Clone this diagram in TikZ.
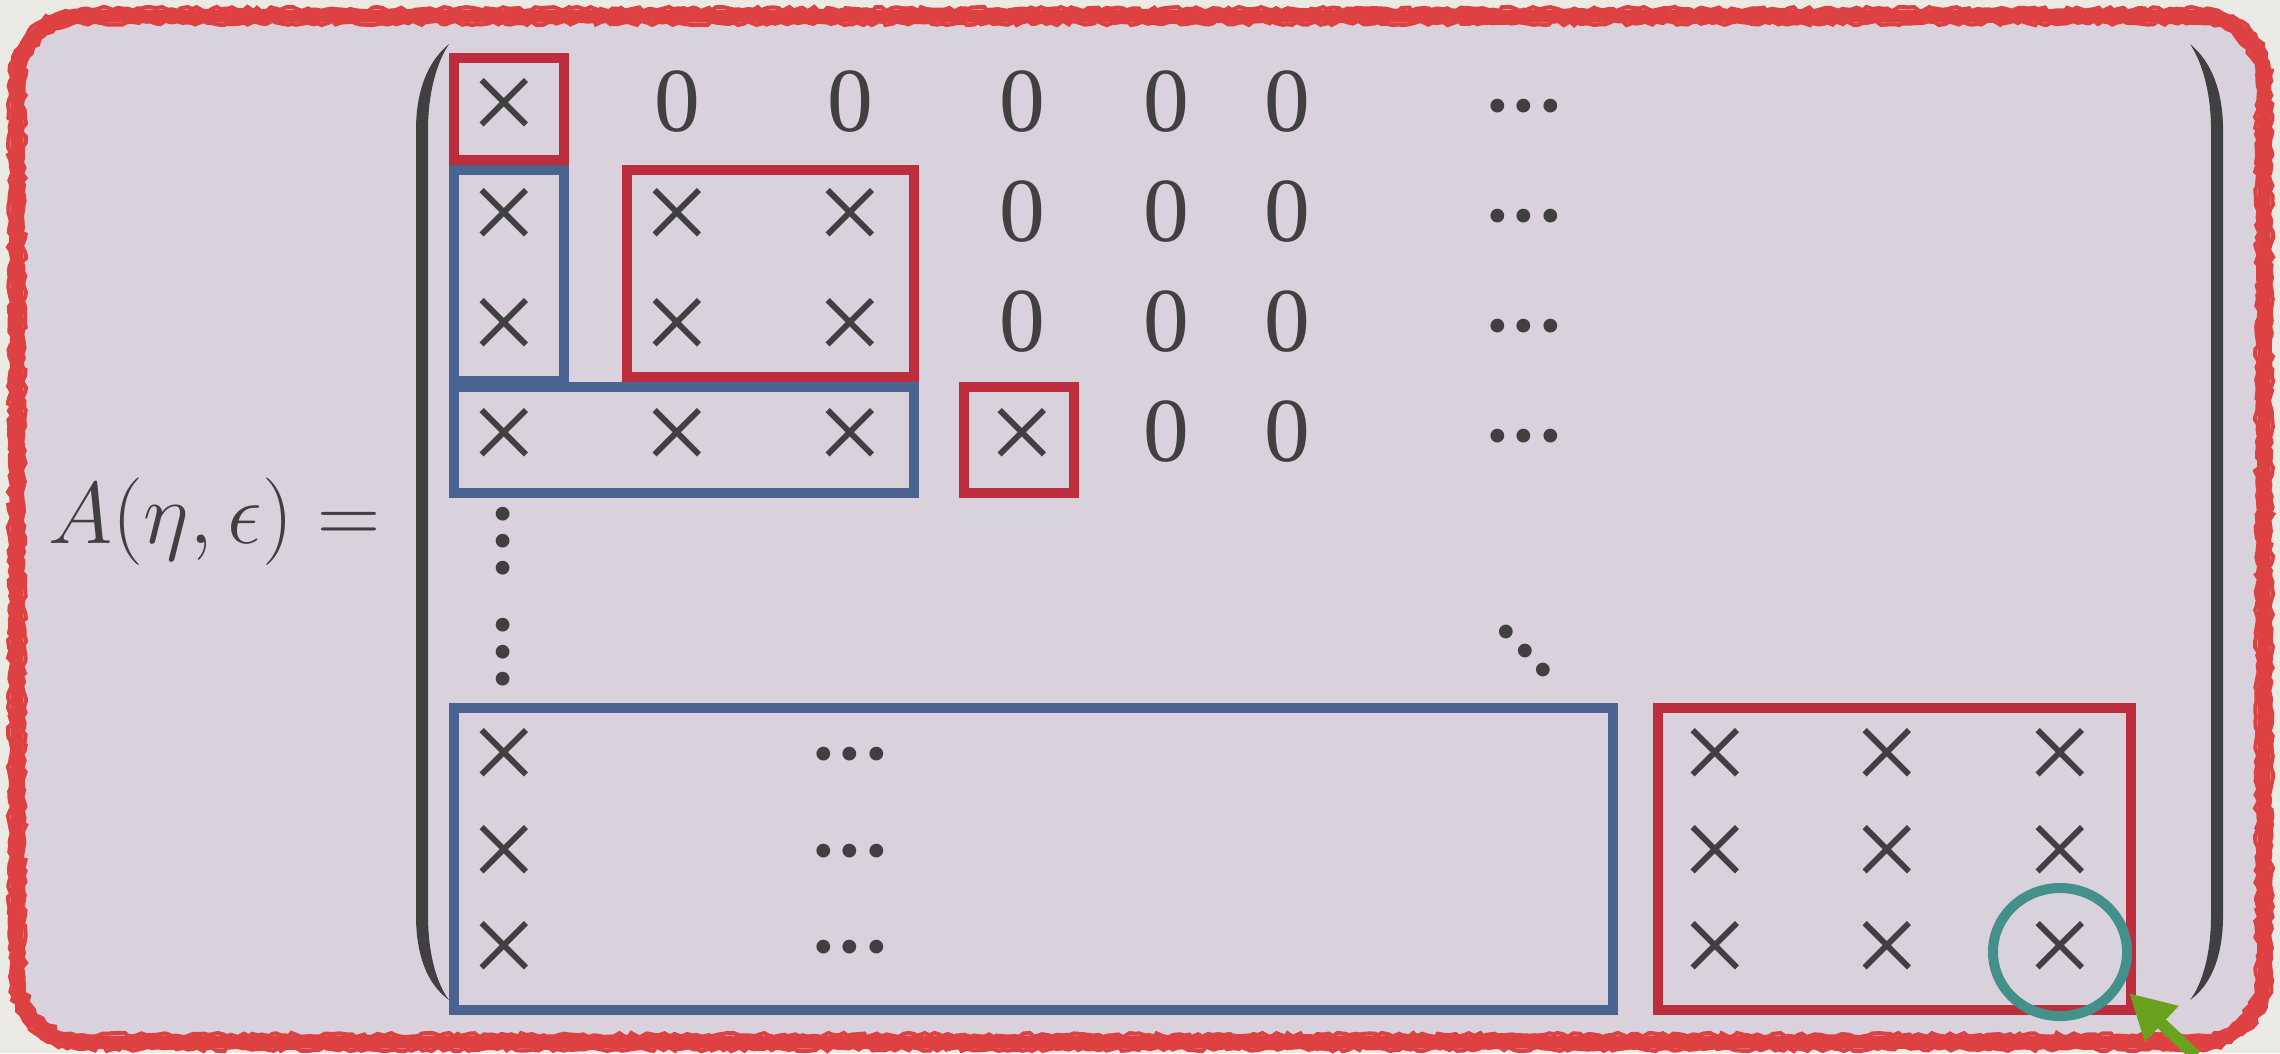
\documentclass[tikz,border=0pt]{standalone}
\usepackage{fontspec}
\setmainfont{Liberation Serif}
\usetikzlibrary{decorations.pathmorphing,arrows.meta,shapes.geometric}
\definecolor{bgout}{HTML}{ECEAE5}
\definecolor{panel}{HTML}{D9D2DC}
\definecolor{frame}{HTML}{DD4142}
\definecolor{boxred}{HTML}{BC2D3D}
\definecolor{boxblue}{HTML}{4A6391}
\definecolor{circteal}{HTML}{43918A}
\definecolor{arrgreen}{HTML}{6AA11F}
\definecolor{ink}{HTML}{404040}
\newcommand{\threedots}{\raisebox{-0.322em}{·\kern-0.103em·\kern-0.103em·}}
\tikzset{
  zero/.style={anchor=base, inner sep=0pt, font=\fontsize{26}{30}\selectfont, text=ink},
  cross/.style={anchor=center, inner sep=0pt, font=\fontsize{34}{38}\selectfont, text=ink},
  dotrow/.style={anchor=center, inner sep=0pt, text height=0pt, text depth=0pt,
     font=\fontsize{33}{33}\selectfont, text=ink},
  redbox/.style={draw=boxred, line width=1mm},
  bluebox/.style={draw=boxblue, line width=1mm},
  roughline/.style={draw=frame, line width=0.4mm, decorate,
     decoration={random steps, segment length=0.5mm, amplitude=0.22mm}},
}
\begin{document}
\begin{tikzpicture}[x=0.01cm,y=-0.01cm]
\pgfmathsetseed{7}
\useasboundingbox (0,0) rectangle (2280,1053);
\fill[bgout] (0,0) rectangle (2280,1053);
% panel and rough frame
\fill[panel] (82,16) -- (2199,16) arc[start angle=90, end angle=0, radius=0.65cm]
  -- (2264,977) arc[start angle=0, end angle=-90, radius=0.65cm]
  -- (82,1042) arc[start angle=-90, end angle=-180, radius=0.65cm]
  -- (17,81) arc[start angle=180, end angle=90, radius=0.65cm] -- cycle;
\draw[frame, line width=1.3mm] (82,16) -- (2199,16) arc[start angle=90, end angle=0, radius=0.65cm]
  -- (2264,977) arc[start angle=0, end angle=-90, radius=0.65cm]
  -- (82,1042) arc[start angle=-90, end angle=-180, radius=0.65cm]
  -- (17,81) arc[start angle=180, end angle=90, radius=0.65cm] -- cycle;
\draw[roughline] (82,9) -- (2199,9) arc[start angle=90, end angle=0, radius=0.72cm]
  -- (2271,977) arc[start angle=0, end angle=-90, radius=0.72cm]
  -- (82,1049) arc[start angle=-90, end angle=-180, radius=0.72cm]
  -- (10,81) arc[start angle=180, end angle=90, radius=0.72cm] -- cycle;
\draw[roughline] (82,23) -- (2199,23) arc[start angle=90, end angle=0, radius=0.58cm]
  -- (2257,977) arc[start angle=0, end angle=-90, radius=0.58cm]
  -- (82,1035) arc[start angle=-90, end angle=-180, radius=0.58cm]
  -- (24,81) arc[start angle=180, end angle=90, radius=0.58cm] -- cycle;

% parentheses
\begin{scope}[shift={(449,0)}]
\fill[ink] (0,44) .. controls (-22,62) and (-33,92) .. (-33,130) -- (-33,915)
  .. controls (-33,955) and (-22,984) .. (0,1000)
  .. controls (-12,984) and (-21,955) .. (-21,915) -- (-21,130)
  .. controls (-21,92) and (-12,62) .. (0,44) -- cycle;
\end{scope}
\begin{scope}[shift={(2190,0)}, xscale=-1]
\fill[ink] (0,44) .. controls (-22,62) and (-33,92) .. (-33,130) -- (-33,915)
  .. controls (-33,955) and (-22,984) .. (0,1000)
  .. controls (-12,984) and (-21,955) .. (-21,915) -- (-21,130)
  .. controls (-21,92) and (-12,62) .. (0,44) -- cycle;
\end{scope}

% left-hand side
\node[anchor=base west, inner sep=0pt, text=ink, font=\fontsize{26}{30}\selectfont] (lhs) at (48,543) {$A(\eta,\epsilon) =$};

% highlight boxes
\draw[redbox] (454,58) rectangle (564,160);
\draw[bluebox] (454,170) rectangle (564,381);
\draw[bluebox] (454,387) rectangle (914,493);
\draw[redbox] (627,170) rectangle (914,377);
\draw[redbox] (964,387) rectangle (1074,493);
\draw[bluebox] (454,708) rectangle (1613,1010);
\draw[redbox] (1658,708) rectangle (2131,1010);

% row 1
\node[cross] (a11) at (504,110) {×};
\node[zero] (a12) at (677,131) {0};
\node[zero] (a13) at (850,131) {0};
\node[zero] (a14) at (1022,131) {0};
\node[zero] (a15) at (1166,131) {0};
\node[zero] (a16) at (1287,131) {0};
\node[dotrow] (a17) at (1524,107) {\threedots};
% row 2
\node[cross] (a21) at (504,220) {×};
\node[cross] (a22) at (677,220) {×};
\node[cross] (a23) at (850,220) {×};
\node[zero] (a24) at (1022,241) {0};
\node[zero] (a25) at (1166,241) {0};
\node[zero] (a26) at (1287,241) {0};
\node[dotrow] (a27) at (1524,217) {\threedots};
% row 3
\node[cross] (a31) at (504,330) {×};
\node[cross] (a32) at (677,330) {×};
\node[cross] (a33) at (850,330) {×};
\node[zero] (a34) at (1022,351) {0};
\node[zero] (a35) at (1166,351) {0};
\node[zero] (a36) at (1287,351) {0};
\node[dotrow] (a37) at (1524,327) {\threedots};
% row 4
\node[cross] (a41) at (504,440) {×};
\node[cross] (a42) at (677,440) {×};
\node[cross] (a43) at (850,440) {×};
\node[cross] (a44) at (1022,440) {×};
\node[zero] (a45) at (1166,461) {0};
\node[zero] (a46) at (1287,461) {0};
\node[dotrow] (a47) at (1524,437) {\threedots};
% vertical and diagonal dots
\node[dotrow, rotate=90] (v1) at (504,541) {\threedots};
\node[dotrow, rotate=90] (v2) at (504,652) {\threedots};
\node[dotrow, rotate=-45] (dd) at (1524,652) {\threedots};
% bottom rows
\node[cross] (b11) at (504,760) {×};
\node[dotrow] (b12) at (850,755) {\threedots};
\node[cross] (b13) at (1715,760) {×};
\node[cross] (b14) at (1887,760) {×};
\node[cross] (b15) at (2060,760) {×};
\node[cross] (b21) at (504,857) {×};
\node[dotrow] (b22) at (850,852) {\threedots};
\node[cross] (b23) at (1715,857) {×};
\node[cross] (b24) at (1887,857) {×};
\node[cross] (b25) at (2060,857) {×};
\node[cross] (b31) at (504,953) {×};
\node[dotrow] (b32) at (850,948) {\threedots};
\node[cross] (b33) at (1715,953) {×};
\node[cross] (b34) at (1887,953) {×};
\node[cross] (b35) at (2060,953) {×};

% circle and arrow
\node[ellipse, draw=circteal, line width=1mm, inner sep=0pt,
      minimum width=1.34cm, minimum height=1.28cm] (circ) at (2060,952) {};
\coordinate (arrstart) at (2196,1056);
\coordinate (arrtip) at (2129,993);
\draw[arrgreen, line width=1.2mm, -{Triangle[length=4.5mm, width=4.6mm]}] (arrstart) -- (arrtip);
\end{tikzpicture}
\end{document}
